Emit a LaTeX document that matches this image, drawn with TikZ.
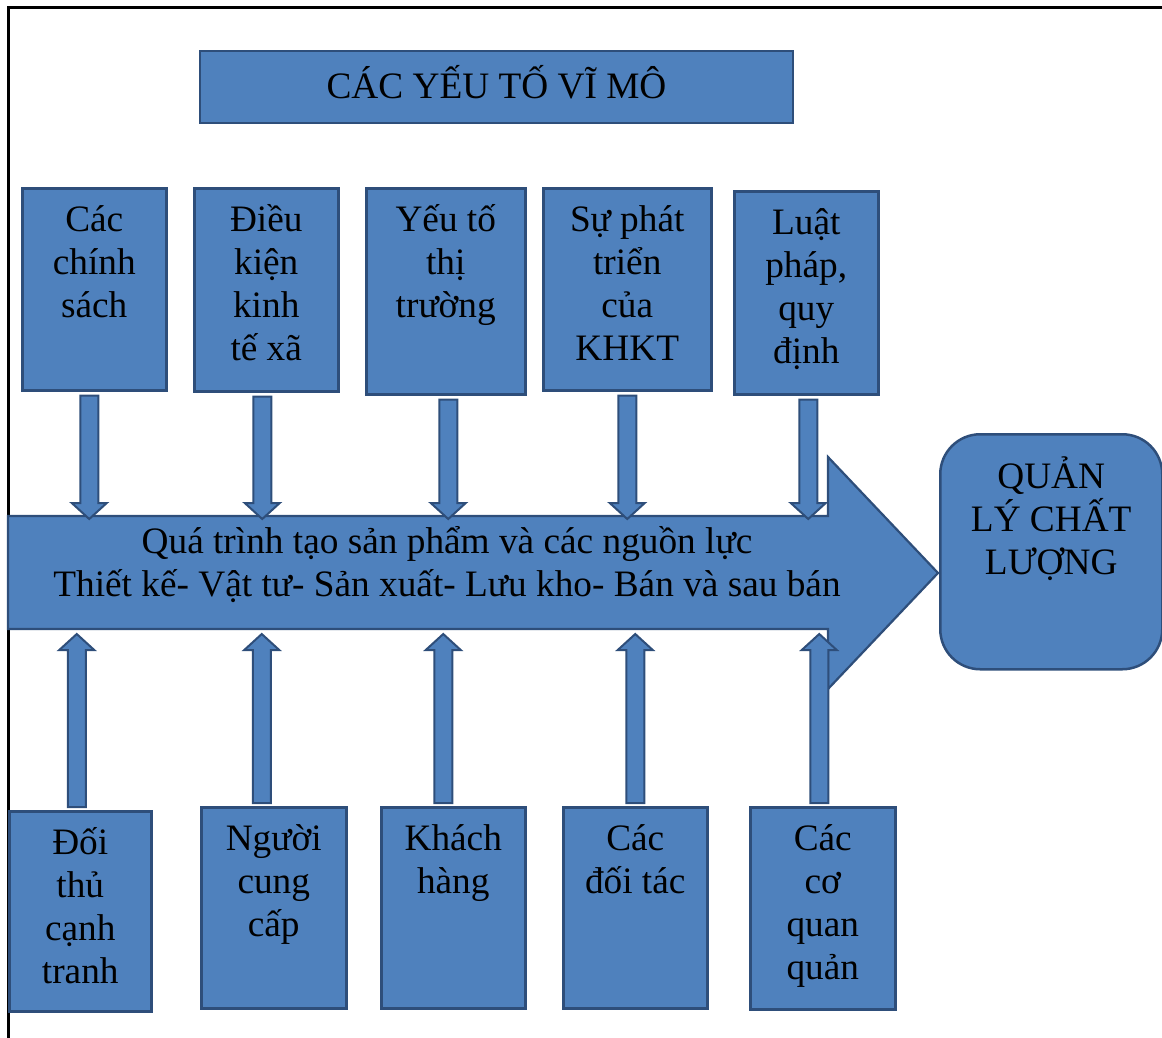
\documentclass[tikz,border=0pt]{standalone}
\usepackage{fontspec}
\setmainfont{Liberation Serif}
\usetikzlibrary{positioning,calc}
\definecolor{boxfill}{HTML}{4F81BD}
\definecolor{boxline}{HTML}{2E4E7A}
% top aligned lines inside a box: [first baseline]{width}{height}{text}
\newcommand{\boxlines}[4][43pt]{\parbox[t][#3][t]{#2}{\centering\rule{0pt}{#1}#4}}

\tikzset{
  factor/.style={draw=boxline, fill=boxfill, line width=2.5pt, inner sep=0pt,
    anchor=north west, font=\fontsize{37.3}{43}\selectfont},
  bigarrow/.style={draw=boxline, fill=boxfill, line width=2.2pt, line join=miter},
  blockarr/.style={draw=boxline, fill=boxfill, line width=2pt, line join=miter,
    to path={let \p1=(\tikztostart), \p2=(\tikztotarget),
      \n1={\y2-16*sign(\y2-\y1)} in
      (\x1-9pt,\y1) -- (\x1-9pt,\n1) -- (\x1-17.5pt,\n1) -- (\x2,\y2)
      -- (\x1+17.5pt,\n1) -- (\x1+9pt,\n1) -- (\x1+9pt,\y1) -- cycle}}
}

\begin{document}
\begin{tikzpicture}[x=1pt, y=-1pt]
    \useasboundingbox (0,0) rectangle (1162,1037);
    % frame
    \draw[line width=3pt] (8,1040) -- (8,7.5) -- (1165,7.5);

    % process arrow
    \draw[bigarrow] (8,516) -- (828,516) -- (828,457) -- (938,573)
      -- (828,689) -- (828,629) -- (8,629) -- cycle;
    \coordinate (bodytop) at (8,516);
    \coordinate (bodybot) at (8,629);
    \node[anchor=north, inner sep=0pt, font=\fontsize{37.3}{43}\selectfont] (proc) at (447,510)
      {\parbox[t]{900pt}{\centering\rule{0pt}{43pt}Quá trình tạo sản phẩm và các nguồn lực\\
       Thiết kế- Vật tư- Sản xuất- Lưu kho- Bán và sau bán}};

    % macro factors
    \node[factor, minimum width=593, minimum height=72, anchor=center,
      text height=23pt, text depth=0pt] (macro) at (496.5,87) {CÁC YẾU TỐ VĨ MÔ};
    \node[factor] (t1) at (21,187) {\boxlines{144pt}{202pt}{Các\\chính\\sách}};
    \node[factor] (t2) at (193,187) {\boxlines{144pt}{203pt}{Điều\\kiện\\kinh\\tế xã}};
    \node[factor] (t3) at (365,187) {\boxlines{159pt}{206pt}{Yếu tố\\thị\\trường}};
    \node[factor] (t4) at (542,187) {\boxlines{168pt}{202pt}{Sự phát\\triển\\của\\KHKT}};
    \node[factor] (t5) at (733,190) {\boxlines{144pt}{203pt}{Luật\\pháp,\\quy\\định}};

    % micro factors
    \node[factor] (b1) at (8,810) {\boxlines{142pt}{200pt}{Đối\\thủ\\cạnh\\tranh}};
    \node[factor] (b2) at (200,806) {\boxlines{145pt}{201pt}{Người\\cung\\cấp}};
    \node[factor] (b3) at (380,806) {\boxlines{144pt}{201pt}{Khách\\hàng}};
    \node[factor] (b4) at (562,806) {\boxlines{144pt}{201pt}{Các\\đối tác}};
    \node[factor] (b5) at (749,806) {\boxlines{145pt}{202pt}{Các\\cơ\\quan\\quản}};

    % result
    \node[factor, rounded corners=40pt] (qlcl) at (939,433)
      {\boxlines[54pt]{222pt}{235pt}{QUẢN\\LÝ CHẤT\\LƯỢNG}};

    % arrows
    \foreach \src/\dx in {t1/-5, t2/-4, t3/2.5, t4/0, t5/2}
      \draw[blockarr] ($(\src.south)+(\dx,4)$) to ($(\src.south |- bodytop)+(\dx,3)$);
    \foreach \src/\dx in {b1/-3.5, b2/-12, b3/-10, b4/0, b5/-3.5}
      \draw[blockarr] ($(\src.north)+(\dx,-3)$) to ($(\src.north |- bodybot)+(\dx,5)$);
\end{tikzpicture}
\end{document}
